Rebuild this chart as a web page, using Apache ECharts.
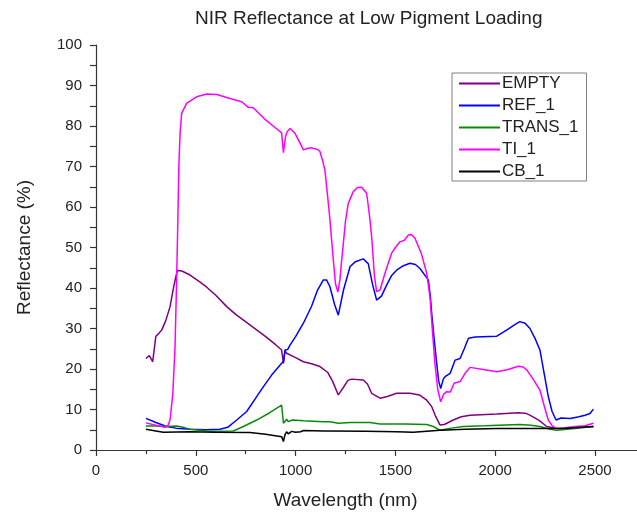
<!DOCTYPE html>
<html><head><meta charset="utf-8">
<script src="https://cdn.jsdelivr.net/npm/echarts@6/dist/echarts.min.js"></script>
<style>html,body{margin:0;padding:0;background:#fff}#c{width:637px;height:520px}</style>
</head><body><div id="c"></div>
<script>
const seriesNames = ['EMPTY','REF_1','TRANS_1','TI_1','CB_1'];
const xTicks = [0,500,1000,1500,2000,2500];
const yTicks = [0,10,20,30,40,50,60,70,80,90,100];

const EMPTY = [[250,22.6],[267,23.3],[284,21.8],[300,28.1],[315,28.8],[329,29.6],[350,32],[371,35.4],[390,40.5],[407,44.3],[430,44.2],[471,43.2],[520,41.5],[555,40.2],[600,38.2],[655,35.4],[700,33.5],[771,30.9],[850,28],[900,26],[930,24.7],[939,21.4],[947,24.5],[955,23.9],[1000,22.8],[1039,21.8],[1080,21.3],[1122,20.6],[1160,19.2],[1185,17],[1214,13.6],[1240,15.5],[1262,17.2],[1281,17.5],[1339,17.3],[1360,16.3],[1381,14],[1423,12.8],[1460,13.2],[1506,14],[1573,14],[1620,13.6],[1657,12.3],[1682,10.7],[1700,8.5],[1723,6.2],[1745,6.3],[1790,7.4],[1830,8.2],[1874,8.6],[2008,8.9],[2116,9.2],[2150,9.1],[2174,8.6],[2220,7.3],[2258,5.8],[2300,5.4],[2341,5.2],[2400,5.5],[2492,5.8]];

const REF_1 = [[250,7.8],[300,6.8],[354,5.8],[400,5.4],[471,5.1],[550,5.0],[621,5.1],[660,5.6],[705,7.4],[755,9.5],[800,12.8],[838,15.6],[880,18.5],[930,21.4],[940,22],[947,24.7],[960,24.8],[972,25.9],[1000,28],[1039,31.3],[1080,35.5],[1110,39.5],[1139,42],[1155,42],[1172,40.3],[1195,36],[1214,33.3],[1240,39.5],[1273,45.3],[1300,46.5],[1339,47.2],[1364,46],[1385,41],[1406,37],[1430,38],[1456,40.7],[1480,43],[1506,44.4],[1540,45.5],[1573,46.1],[1600,45.8],[1623,44.8],[1650,43],[1665,42],[1675,38],[1682,33.7],[1695,27],[1707,21.4],[1717,17],[1727,15.2],[1740,17.5],[1749,18.1],[1774,18.9],[1790,21],[1799,22.2],[1824,22.6],[1845,25],[1866,27.6],[1900,27.9],[2008,28.1],[2057,29.6],[2100,31],[2124,31.7],[2150,31.3],[2174,30],[2200,27.5],[2224,24.7],[2245,19],[2266,13.2],[2285,9.5],[2305,7.4],[2330,7.9],[2375,7.8],[2420,8.2],[2450,8.6],[2475,9],[2492,10.1]];

const TRANS_1 = [[250,5.9],[300,5.9],[354,5.8],[404,5.9],[437,5.6],[471,5.1],[555,4.7],[620,4.6],[688,4.7],[738,5.8],[805,7.4],[870,9.2],[930,11.1],[939,6.6],[955,7.6],[963,7.0],[972,7.2],[985,7.4],[1039,7.2],[1139,7.0],[1172,7.0],[1214,6.6],[1222,6.4],[1273,6.8],[1373,6.8],[1423,6.4],[1550,6.4],[1657,6.3],[1690,5.8],[1723,4.9],[1780,5.4],[1840,5.8],[1950,6],[2050,6.2],[2124,6.3],[2180,6.1],[2224,5.8],[2270,5.2],[2308,4.9],[2400,5.3],[2492,5.8]];

const TI_1 = [[250,6.7],[300,6.1],[346,5.6],[360,6],[371,7.4],[385,14],[396,25.5],[403,40],[409,54],[415,70],[421,78],[429,83.1],[454,85.6],[504,87.2],[555,87.9],[605,87.8],[671,86.8],[730,86],[763,84.6],[788,84.5],[850,81.5],[900,79.5],[930,78.3],[939,73.4],[950,77.5],[958,78.6],[972,79.4],[980,79.8],[997,78.2],[1020,76],[1039,74.1],[1060,74.5],[1081,74.6],[1110,74.2],[1122,73.7],[1135,71.5],[1147,69.1],[1170,58],[1189,46.9],[1200,41],[1212,39],[1222,42],[1231,46.9],[1250,56.5],[1264,60.9],[1289,63.8],[1310,64.8],[1331,64.9],[1356,63.4],[1370,58],[1381,52.7],[1395,43],[1406,39.1],[1423,39.5],[1450,44],[1481,48.6],[1500,50],[1523,51.4],[1545,51.8],[1565,53.1],[1580,53.2],[1598,52.3],[1630,48.5],[1657,43.6],[1673,37.9],[1686,29],[1698,21.4],[1712,15],[1727,11.9],[1742,13.8],[1757,14.4],[1775,14.3],[1794,16.5],[1824,16.9],[1850,19],[1874,20.4],[1940,19.9],[2008,19.3],[2060,19.8],[2116,20.7],[2140,20.5],[2158,19.8],[2190,17.5],[2224,14.8],[2245,11],[2266,7.4],[2285,6],[2308,5.3],[2350,5.5],[2400,5.8],[2450,6],[2492,6.6]];

const CB_1 = [[250,5.1],[300,4.7],[337,4.4],[471,4.5],[600,4.4],[771,4.3],[850,3.9],[930,3.3],[939,2.1],[947,3.8],[955,4.5],[963,4.0],[972,4.1],[980,4.6],[989,4.8],[1000,4.4],[1010,4.8],[1025,4.5],[1040,4.8],[1139,4.7],[1172,4.7],[1350,4.6],[1506,4.5],[1590,4.4],[1723,4.9],[1850,5.1],[2008,5.3],[2241,5.3],[2350,5.4],[2492,5.8]];

const colors = ['#800080','#0000ff','#0a8a0a','#ff00ff','#000000'];
const dataSets = [EMPTY, REF_1, TRANS_1, TI_1, CB_1];

const font = '"Liberation Sans", Arial, sans-serif';
const axisColor = '#333';
const chart = echarts.init(document.getElementById('c'), null, {renderer:'canvas'});
chart.setOption({
  animation: false,
  backgroundColor: '#fff',
  title: {text:'NIR Reflectance at Low Pigment Loading', left:190, top:4,
    textStyle:{fontFamily:font, fontSize:19, fontWeight:'normal', color:'#222'}},
  legend: {
    orient:'vertical', left:452, top:73, padding:[2,8,1,7], itemGap:5,
    itemWidth:41, itemHeight:2, icon:'rect',
    borderColor:'#808080', borderWidth:1, backgroundColor:'#fff',
    textStyle:{fontFamily:font, fontSize:17, color:'#222', padding:[0,0,0,-3]},
    data: seriesNames
  },
  grid: [
    {left:96, right:42, top:45, bottom:70, containLabel:false},
    {left:595, right:0, top:45, bottom:70, containLabel:false}
  ],
  xAxis: [{
    type:'value', gridIndex:0, min:0, max:2500, interval:500,
    name:'Wavelength (nm)', nameLocation:'middle', nameGap:41,
    nameTextStyle:{fontFamily:font, fontSize:19, color:'#222'},
    axisLine:{show:true, onZero:false, lineStyle:{color:axisColor, width:1.2}},
    axisTick:{show:true, inside:false, length:6, lineStyle:{color:axisColor, width:1.2}},
    minorTick:{show:true, splitNumber:2, length:4, lineStyle:{color:axisColor, width:1.2}},
    splitLine:{show:false},
    axisLabel:{margin:13, fontFamily:font, fontSize:15, color:'#222',
      formatter: v => xTicks.indexOf(v) >= 0 ? String(v) : ''}
  },{
    type:'value', gridIndex:1, min:2500, max:2710,
    axisLine:{show:true, onZero:false, lineStyle:{color:axisColor, width:1.2}},
    axisTick:{show:false}, axisLabel:{show:false}, splitLine:{show:false}
  }],
  yAxis: [{
    type:'value', gridIndex:0, min:0, max:100, interval:10,
    name:'Reflectance (%)', nameLocation:'middle', nameGap:62,
    nameTextStyle:{fontFamily:font, fontSize:19, color:'#222'},
    axisLine:{show:true, lineStyle:{color:axisColor, width:1.2}},
    axisTick:{show:true, inside:false, length:6, lineStyle:{color:axisColor, width:1.2}},
    minorTick:{show:true, splitNumber:2, length:6, lineStyle:{color:axisColor, width:1.2}},
    splitLine:{show:false},
    axisLabel:{margin:14, fontFamily:font, fontSize:15, color:'#222',
      formatter: v => yTicks.indexOf(v) >= 0 ? String(v) : ''}
  },{
    type:'value', gridIndex:1, min:0, max:100, show:false
  }],
  series: seriesNames.map((n,i)=>({
    name:n, type:'line', xAxisIndex:0, yAxisIndex:0, data:dataSets[i],
    showSymbol:false, symbol:'none', smooth:false, clip:true,
    lineStyle:{color:colors[i], width:1.5}, itemStyle:{color:colors[i]}
  }))
});
</script></body></html>
